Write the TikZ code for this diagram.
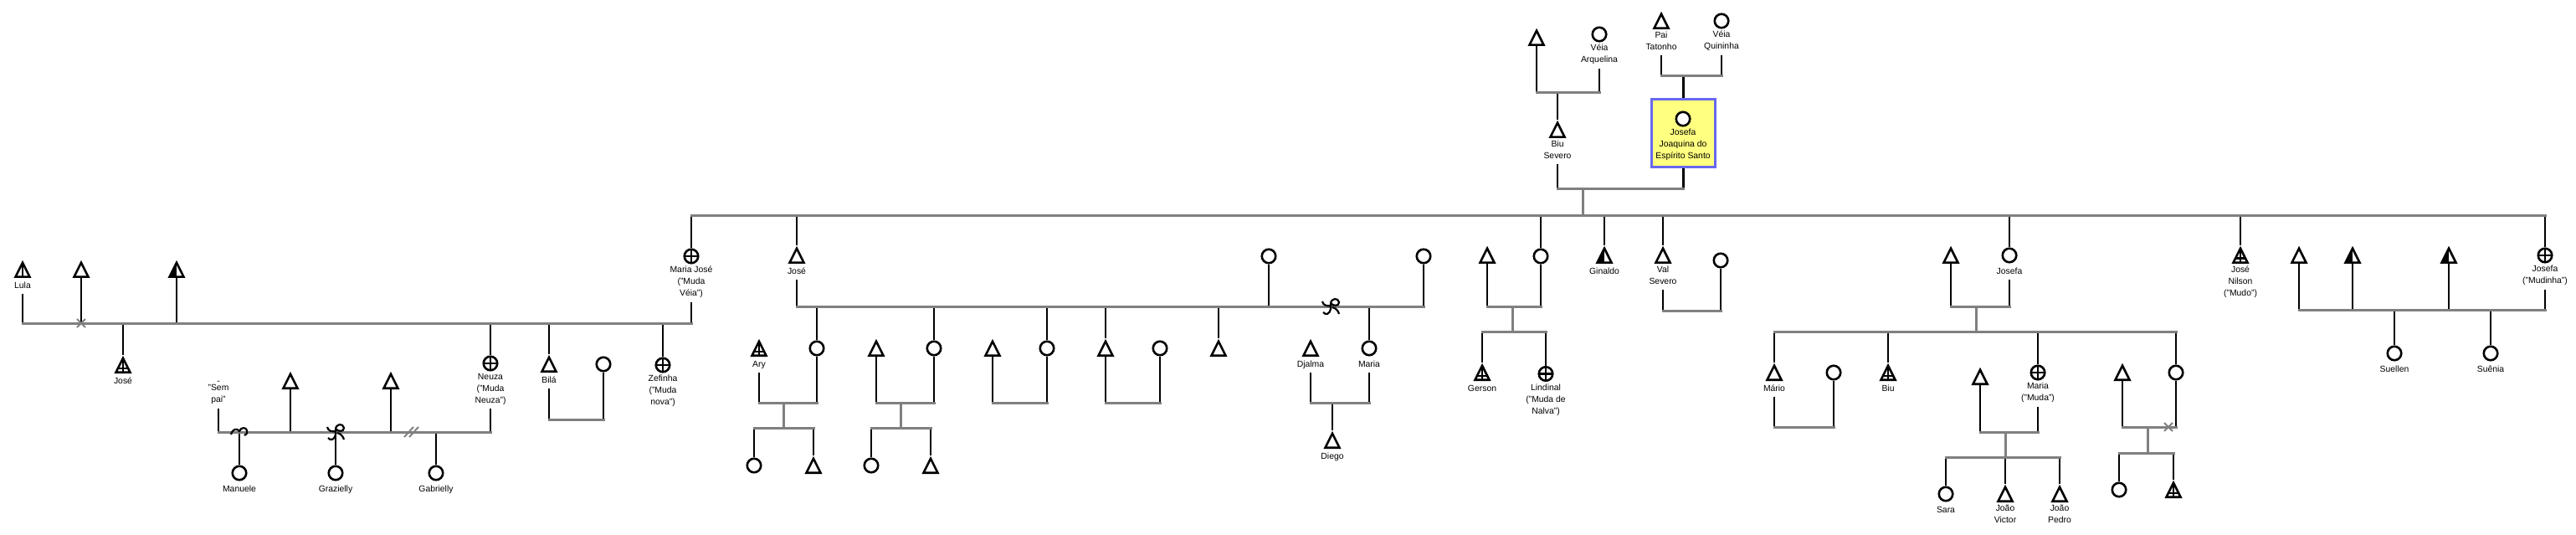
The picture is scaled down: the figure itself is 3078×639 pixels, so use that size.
\documentclass[tikz,border=0pt]{standalone}
\usepackage{fontspec}
\setmainfont{Liberation Sans}
\usetikzlibrary{positioning,shapes.geometric,shapes.misc}

\definecolor{tiegray}{RGB}{128,128,128}
\definecolor{boxyellow}{RGB}{255,255,128}
\definecolor{boxblue}{RGB}{104,104,240}
\newcommand\labfont{\fontsize{10.4}{14}\selectfont}

\tikzset{
  stem/.style={line width=2.8pt},
  tie/.style={line width=3pt, tiegray, line cap=rect},
  male/.style={draw, fill=white, line width=2.6pt, isosceles triangle, isosceles triangle stretches,
    shape border rotate=90, minimum width=17pt, minimum height=17pt, inner sep=0pt, anchor=south},
  female/.style={draw, fill=white, line width=2.6pt, circle, minimum size=16.5pt, inner sep=0pt},
  mutef/.style={female, path picture={\draw[black, line width=2.4pt]
    (path picture bounding box.north) -- (path picture bounding box.south)
    (path picture bounding box.west) -- (path picture bounding box.east);}},
  mutem/.style={male, path picture={\draw[black, line width=2.4pt]
    (path picture bounding box.north) -- (path picture bounding box.south)
    ([yshift=-3.5pt]path picture bounding box.west) -- ([yshift=-3.5pt]path picture bounding box.east);}},
  halfm/.style={male, path picture={\fill[black]
    (path picture bounding box.south west) rectangle (path picture bounding box.north);}},
  linem/.style={male, path picture={\draw[black, line width=2.4pt]
    (path picture bounding box.north) -- (path picture bounding box.south);}},
  lab/.style={align=center, inner xsep=1pt, inner ysep=2.5pt, font=\labfont,
    execute at begin node=\strut, execute at end node=\strut},
  box/.style={draw=boxblue, fill=boxyellow, line width=2.6pt, minimum width=76pt, minimum height=81pt, inner sep=0pt},
  split/.style={draw=tiegray, cross out, line width=2pt, minimum size=8pt, inner sep=0pt},
  curl/.pic={\draw[line width=2.2pt] (-10,3) .. controls (-8,-4) and (-3,-5) .. (0,-1)
    .. controls (2,-6) and (8,-6) .. (9,-2) .. controls (10,1) and (8,4) .. (6,4);},
  loopcurl/.pic={\draw[line width=2.2pt] (-9,7) .. controls (-6,11) and (-1,9) .. (0,3) -- (0,-3)
    .. controls (0,-10) and (9,-11) .. (10,-5) .. controls (10,0) and (3,0) .. (0,-4)
    (-10,-6) .. controls (-9,-1) and (-4,0) .. (0,-1)
    (2,1) .. controls (6,2) and (9,5) .. (10,9);},
  cut/.pic={\draw[tiegray, line width=2pt] (-8,6) -- (3,-6) (-2,6) -- (9,-6);},
}

\begin{document}
\begin{tikzpicture}[x=1pt,y=-1pt]
  \useasboundingbox (0,0) rectangle (3078,639);

  % grandparents
  \node[male] (bsf) at (1836,55) {};
  \node[female] (arq) at (1911,41) {};
  \node[lab, below=0pt of arq] (arql) {Véia\\Arquelina};
  \node[male] (biu) at (1861,165) {};
  \node[lab, below=0pt of biu] (biul) {Biu\\Severo};
  \node[male] (tat) at (1985,35) {};
  \node[lab, below=0pt of tat] (tatl) {Pai\\Tatonho};
  \node[female] (qui) at (2057,25) {};
  \node[lab, below=0pt of qui] (quil) {Véia\\Quininha};
  \node[box] (jbox) at (2011.5,159) {};
  \node[female] (jjes) at (2011,142) {};
  \node[lab, below=0pt of jjes] (jjesl) {Josefa\\Joaquina do\\Espírito Santo};

  \coordinate (arqtie) at (0,111);
  \coordinate (quitie) at (0,91);
  \coordinate (biutie) at (0,226);
  \coordinate (main) at (0,257);
  \coordinate (maindrop) at (1891,226);

  \draw[stem] (bsf) -- (bsf |- arqtie);
  \draw[stem] (arql) -- (arql |- arqtie);
  \draw[stem] (biu |- arqtie) -- (biu);
  \draw[tie] (bsf |- arqtie) -- (arq |- arqtie);
  \draw[stem] (tatl) -- (tatl |- quitie);
  \draw[stem] (quil) -- (quil |- quitie);
  \draw[stem] (jbox |- quitie) -- (jbox);
  \draw[tie] (tat |- quitie) -- (qui |- quitie);
  \draw[stem] (biul) -- (biul |- biutie);
  \draw[stem] (jbox) -- (jbox |- biutie);
  \draw[tie] (biu |- biutie) -- (jbox |- biutie);
  \draw[tie] (maindrop) -- (maindrop |- main);

  % children of Josefa Joaquina
  \node[mutef] (mj) at (826,306) {};
  \node[lab, below=0pt of mj] (mjl) {Maria José\\("Muda\\Véia")};
  \node[male] (jose) at (952,315) {};
  \node[lab, below=0pt of jose] (josel) {José};
  \node[female] (gw) at (1841,306) {};
  \node[halfm] (gin) at (1917,315) {};
  \node[lab, below=0pt of gin] (ginl) {Ginaldo};
  \node[male] (val) at (1987,315) {};
  \node[lab, below=0pt of val] (vall) {Val\\Severo};
  \node[female] (josefa) at (2401,305) {};
  \node[lab, below=0pt of josefa] (josefal) {Josefa};
  \node[mutem] (nilson) at (2677,315) {};
  \node[lab, below=0pt of nilson] (nilsonl) {José\\Nilson\\("Mudo")};
  \node[mutef] (mudinha) at (3041,305) {};
  \node[lab, below=0pt of mudinha] (mudinhal) {Josefa\\("Mudinha")};

  \foreach \n in {mj,jose,gw,gin,val,josefa,nilson,mudinha}
    \draw[stem] (\n |- main) -- (\n);
  \draw[tie] (mj |- main) -- (mudinha |- main);

  % Maria José
  \node[linem] (lula) at (27,332) {};
  \node[lab, below=0pt of lula] (lulal) {Lula};
  \node[male] (mjh2) at (97,332) {};
  \node[halfm] (mjh3) at (211,332) {};
  \node[mutem] (mjjose) at (147,446) {};
  \node[lab, below=0pt of mjjose] (mjjosel) {José};
  \node[mutef] (neuza) at (586,434) {};
  \node[lab, below=0pt of neuza] (neuzal) {Neuza\\("Muda\\Neuza")};
  \node[male] (bila) at (656,445) {};
  \node[lab, below=0pt of bila] (bilal) {Bilá};
  \node[female] (bilaw) at (721,435) {};
  \node[mutef] (zef) at (792,436) {};
  \node[lab, below=0pt of zef] (zefl) {Zefinha\\("Muda\\nova")};
  \coordinate (mjtie) at (0,386);
  \coordinate (bilatie) at (0,501);

  \foreach \n in {lulal,mjh2,mjh3,mjl}
    \draw[stem] (\n) -- (\n |- mjtie);
  \foreach \n in {mjjose,neuza,bila,zef}
    \draw[stem] (\n |- mjtie) -- (\n);
  \draw[tie] (lula |- mjtie) -- (mj |- mjtie);
  \node[split] (mjx) at (mjh2 |- mjtie) {};
  \draw[stem] (bilal) -- (bilal |- bilatie);
  \draw[stem] (bilaw) -- (bilaw |- bilatie);
  \draw[tie] (bila |- bilatie) -- (bilaw |- bilatie);

  % Neuza
  \node[lab, anchor=north] (sempai) at (261,453) {-\\[-6pt]"Sem\\pai"};
  \node[male] (nh1) at (347,465) {};
  \node[male] (nh2) at (467,465) {};
  \node[female] (manuele) at (286,565) {};
  \node[lab, below=0pt of manuele] (manuelel) {Manuele};
  \node[female] (grazielly) at (401,565) {};
  \node[lab, below=0pt of grazielly] (graziellyl) {Grazielly};
  \node[female] (gabrielly) at (521,565) {};
  \node[lab, below=0pt of gabrielly] (gabriellyl) {Gabrielly};
  \coordinate (neuzatie) at (0,516);

  \foreach \n in {sempai,nh1,nh2,neuzal}
    \draw[stem] (\n) -- (\n |- neuzatie);
  \foreach \n in {manuele,grazielly,gabrielly}
    \draw[stem] (\n |- neuzatie) -- (\n);
  \draw[tie] (sempai |- neuzatie) -- (neuza |- neuzatie);
  \pic at (manuele |- neuzatie) {curl};
  \pic at (grazielly |- neuzatie) {loopcurl};
  \pic at (491,516) {cut};

  % José
  \node[female] (jw1) at (1516,306) {};
  \node[female] (jw2) at (1701,306) {};
  \node[female] (jc1) at (976,416) {};
  \node[female] (jc2) at (1116,416) {};
  \node[female] (jc3) at (1251,416) {};
  \node[male] (jc4) at (1321,426) {};
  \node[male] (jc5) at (1456,426) {};
  \node[female] (maria) at (1636,416) {};
  \node[lab, below=0pt of maria] (marial) {Maria};
  \coordinate (josetie) at (0,366);

  \foreach \n in {josel,jw1,jw2}
    \draw[stem] (\n) -- (\n |- josetie);
  \foreach \n in {jc1,jc2,jc3,jc4,jc5,maria}
    \draw[stem] (\n |- josetie) -- (\n);
  \draw[tie] (jose |- josetie) -- (jw2 |- josetie);
  \pic at (1590,366) {loopcurl};

  % grandchildren of José
  \node[mutem] (ary) at (907,426) {};
  \node[lab, below=0pt of ary] (aryl) {Ary};
  \node[male] (jc2h) at (1047,426) {};
  \node[male] (jc3h) at (1186,426) {};
  \node[female] (jc4w) at (1386,416) {};
  \node[male] (djalma) at (1566,426) {};
  \node[lab, below=0pt of djalma] (djalmal) {Djalma};
  \node[female] (g1) at (901,556) {};
  \node[male] (g2) at (972,566) {};
  \node[female] (g3) at (1041,556) {};
  \node[male] (g4) at (1112,566) {};
  \node[male] (diego) at (1592,536) {};
  \node[lab, below=0pt of diego] (diegol) {Diego};
  \coordinate (jcouple) at (0,481);
  \coordinate (jkids) at (0,511);
  \coordinate (c1drop) at (936,481);
  \coordinate (c2drop) at (1076,481);
  \coordinate (diegodrop) at (1592,481);

  \foreach \n in {aryl,jc1,jc2h,jc2,jc3h,jc3,jc4,jc4w,djalmal,marial}
    \draw[stem] (\n) -- (\n |- jcouple);
  \foreach \n in {g1,g2,g3,g4}
    \draw[stem] (\n |- jkids) -- (\n);
  \draw[stem] (diegodrop) -- (diego);
  \draw[tie] (ary |- jcouple) -- (jc1 |- jcouple);
  \draw[tie] (jc2h |- jcouple) -- (jc2 |- jcouple);
  \draw[tie] (jc3h |- jcouple) -- (jc3 |- jcouple);
  \draw[tie] (jc4 |- jcouple) -- (jc4w |- jcouple);
  \draw[tie] (djalma |- jcouple) -- (maria |- jcouple);
  \draw[tie] (c1drop) -- (c1drop |- jkids);
  \draw[tie] (c2drop) -- (c2drop |- jkids);
  \draw[tie] (g1 |- jkids) -- (g2 |- jkids);
  \draw[tie] (g3 |- jkids) -- (g4 |- jkids);

  % Gerson and Lindinal
  \node[male] (gersf) at (1777,315) {};
  \node[mutem] (gerson) at (1771,455) {};
  \node[lab, below=0pt of gerson] (gersonl) {Gerson};
  \node[mutef] (lindinal) at (1847,446.5) {};
  \node[lab, below=0pt of lindinal] (lindinall) {Lindinal\\("Muda de\\Nalva")};
  \coordinate (gerstie) at (0,366);
  \coordinate (gerskids) at (0,396);
  \coordinate (gersdrop) at (1807,366);

  \draw[stem] (gersf) -- (gersf |- gerstie);
  \draw[stem] (gw) -- (gw |- gerstie);
  \draw[stem] (gerson |- gerskids) -- (gerson);
  \draw[stem] (lindinal |- gerskids) -- (lindinal);
  \draw[tie] (gersf |- gerstie) -- (gw |- gerstie);
  \draw[tie] (gersdrop) -- (gersdrop |- gerskids);
  \draw[tie] (gerson |- gerskids) -- (lindinal |- gerskids);

  % Val Severo
  \node[female] (valw) at (2056,311) {};
  \coordinate (valtie) at (0,371);
  \draw[stem] (vall) -- (vall |- valtie);
  \draw[stem] (valw) -- (valw |- valtie);
  \draw[tie] (val |- valtie) -- (valw |- valtie);

  % Josefa
  \node[male] (josefah) at (2331,315) {};
  \node[male] (mario) at (2120,455) {};
  \node[lab, below=0pt of mario] (mariol) {Mário};
  \node[female] (mariow) at (2191,445) {};
  \node[mutem] (biuj) at (2256,455) {};
  \node[lab, below=0pt of biuj] (biujl) {Biu};
  \node[mutef] (mmuda) at (2435,445) {};
  \node[lab, below=0pt of mmuda] (mmudal) {Maria\\("Muda")};
  \node[male] (mmudah) at (2366,460) {};
  \node[female] (lw) at (2600,445) {};
  \node[male] (lwh) at (2536,455) {};
  \node[female] (sara) at (2325,590) {};
  \node[lab, below=0pt of sara] (saral) {Sara};
  \node[male] (jvictor) at (2396,600) {};
  \node[lab, below=0pt of jvictor] (jvictorl) {João\\Victor};
  \node[male] (jpedro) at (2461,600) {};
  \node[lab, below=0pt of jpedro] (jpedrol) {João\\Pedro};
  \node[female] (lwk1) at (2532,585) {};
  \node[mutem] (lwk2) at (2597,595) {};
  \coordinate (jftie) at (0,366);
  \coordinate (jfkids) at (0,396);
  \coordinate (jfdrop) at (2361,366);
  \coordinate (mariotie) at (0,510);
  \coordinate (mudatie) at (0,516);
  \coordinate (mudakids) at (0,546);
  \coordinate (mudadrop) at (2396,516);
  \coordinate (lwtie) at (0,510);
  \coordinate (lwkids) at (0,541);
  \coordinate (lwdrop) at (2566,510);

  \draw[stem] (josefal) -- (josefal |- jftie);
  \draw[stem] (josefah) -- (josefah |- jftie);
  \foreach \n in {mario,biuj,mmuda,lw}
    \draw[stem] (\n |- jfkids) -- (\n);
  \draw[tie] (josefah |- jftie) -- (josefa |- jftie);
  \draw[tie] (jfdrop) -- (jfdrop |- jfkids);
  \draw[tie] (mario |- jfkids) -- (lw |- jfkids);

  \draw[stem] (mariol) -- (mariol |- mariotie);
  \draw[stem] (mariow) -- (mariow |- mariotie);
  \draw[tie] (mario |- mariotie) -- (mariow |- mariotie);

  \draw[stem] (mmudal) -- (mmudal |- mudatie);
  \draw[stem] (mmudah) -- (mmudah |- mudatie);
  \foreach \n in {sara,jvictor,jpedro}
    \draw[stem] (\n |- mudakids) -- (\n);
  \draw[tie] (mmudah |- mudatie) -- (mmuda |- mudatie);
  \draw[tie] (mudadrop) -- (mudadrop |- mudakids);
  \draw[tie] (sara |- mudakids) -- (jpedro |- mudakids);

  \draw[stem] (lw) -- (lw |- lwtie);
  \draw[stem] (lwh) -- (lwh |- lwtie);
  \foreach \n in {lwk1,lwk2}
    \draw[stem] (\n |- lwkids) -- (\n);
  \draw[tie] (lwh |- lwtie) -- (lw |- lwtie);
  \node[split] (lwx) at (2591,510) {};
  \draw[tie] (lwdrop) -- (lwdrop |- lwkids);
  \draw[tie] (lwk1 |- lwkids) -- (lwk2 |- lwkids);

  % Josefa ("Mudinha")
  \node[male] (mh1) at (2747,315) {};
  \node[halfm] (mh2) at (2811,315) {};
  \node[halfm] (mh3) at (2926,315) {};
  \node[female] (suellen) at (2861,422) {};
  \node[lab, below=0pt of suellen] (suellenl) {Suellen};
  \node[female] (suenia) at (2976,422) {};
  \node[lab, below=0pt of suenia] (suenial) {Suênia};
  \coordinate (mudinhatie) at (0,370);

  \foreach \n in {mh1,mh2,mh3,mudinhal}
    \draw[stem] (\n) -- (\n |- mudinhatie);
  \foreach \n in {suellen,suenia}
    \draw[stem] (\n |- mudinhatie) -- (\n);
  \draw[tie] (mh1 |- mudinhatie) -- (mudinha |- mudinhatie);
\end{tikzpicture}
\end{document}
